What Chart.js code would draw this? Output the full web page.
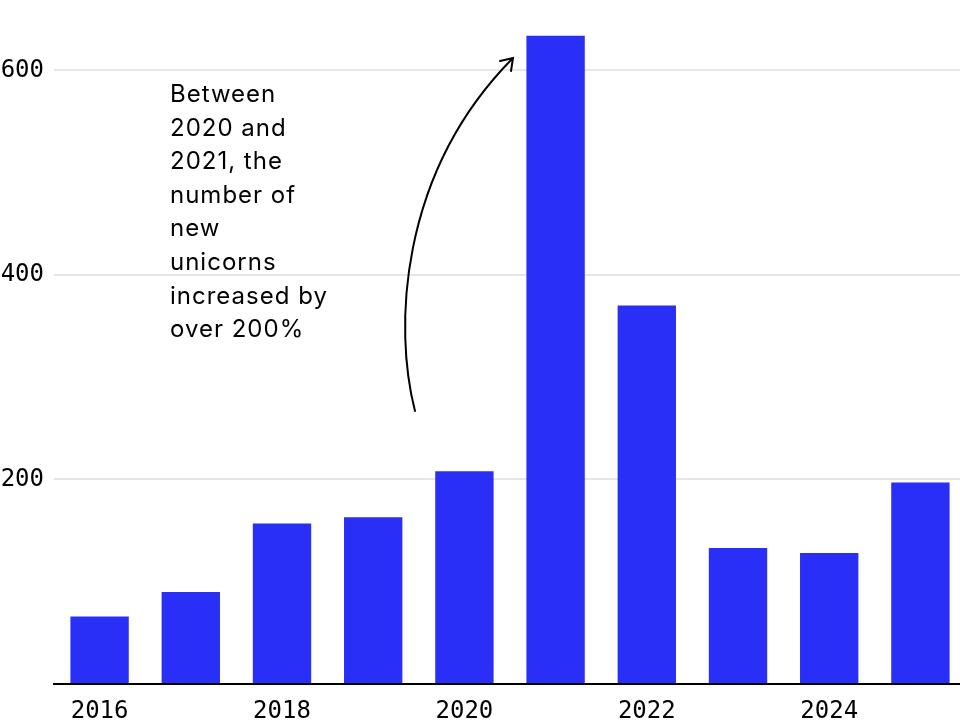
<!DOCTYPE html>
<html>
<head>
<meta charset="utf-8">
<script src="https://cdn.jsdelivr.net/npm/chart.js@4/dist/chart.umd.min.js"></script>
<style>
html,body{margin:0;padding:0;background:#fff;overflow:hidden;width:960px;height:720px;}
canvas{display:block;}
</style>
</head>
<body>
<canvas id="c" width="966" height="720"></canvas>
<script>
const years = ['2016','2017','2018','2019','2020','2021','2022','2023','2024','2025'];
const newUnicorns = [66, 90, 157, 163, 208, 634, 370, 133, 128, 197];
const yTicks = [200, 400, 600];
const noteLines = ['Between','2020 and','2021, the','number of','new','unicorns','increased by','over 200%'];

const annotation = {
  id: 'annotation',
  afterDraw(chart) {
    const ctx = chart.ctx;
    ctx.save();
    ctx.fillStyle = '#000';
    ctx.font = '24px Inter, "Liberation Sans", sans-serif';
    try { ctx.letterSpacing = '1px'; } catch (e) {}
    ctx.textBaseline = 'alphabetic';
    noteLines.forEach((t, i) => ctx.fillText(t, 170, 102 + i * 33.6));
    try { ctx.letterSpacing = '0px'; } catch (e) {}
    // curved arrow
    ctx.strokeStyle = '#000';
    ctx.lineWidth = 2;
    ctx.lineCap = 'round';
    ctx.beginPath();
    ctx.moveTo(415, 411);
    ctx.bezierCurveTo(394, 330, 398, 175, 512, 59);
    ctx.stroke();
    ctx.beginPath();
    ctx.moveTo(500, 61);
    ctx.lineTo(513, 58);
    ctx.lineTo(511, 71);
    ctx.stroke();
    ctx.restore();
  }
};

new Chart(document.getElementById('c'), {
  type: 'bar',
  data: {
    labels: years,
    datasets: [{
      data: newUnicorns,
      backgroundColor: '#2a2ff7',
      borderWidth: 0,
      categoryPercentage: 1,
      barPercentage: 0.64
    }]
  },
  options: {
    responsive: false,
    animation: false,
    layout: { padding: { top: 0, right: 0, bottom: 0, left: 0 } },
    plugins: { legend: { display: false }, tooltip: { enabled: false } },
    scales: {
      x: {
        grid: { display: false, drawTicks: false },
        border: { display: true, color: '#000', width: 2 },
        ticks: {
          autoSkip: false,
          maxRotation: 0,
          padding: 13,
          color: '#000',
          font: { family: '"DejaVu Sans Mono", monospace', size: 24 },
          callback: (v, i) => (i % 2 === 0 ? years[i] : '')
        },
        afterFit(s) { s.height = 36; }
      },
      y: {
        min: 0,
        max: 645,
        grid: { color: '#e6e6e6', lineWidth: 2, drawTicks: false },
        border: { display: false },
        afterBuildTicks(s) { s.ticks = [0].concat(yTicks).map(v => ({ value: v })); },
        ticks: {
          padding: 10,
          color: '#000',
          font: { family: '"DejaVu Sans Mono", monospace', size: 24 },
          callback: v => (v === 0 ? '' : String(v))
        },
        afterFit(s) { s.width = 54; }
      }
    }
  },
  plugins: [annotation]
});
</script>
</body>
</html>
